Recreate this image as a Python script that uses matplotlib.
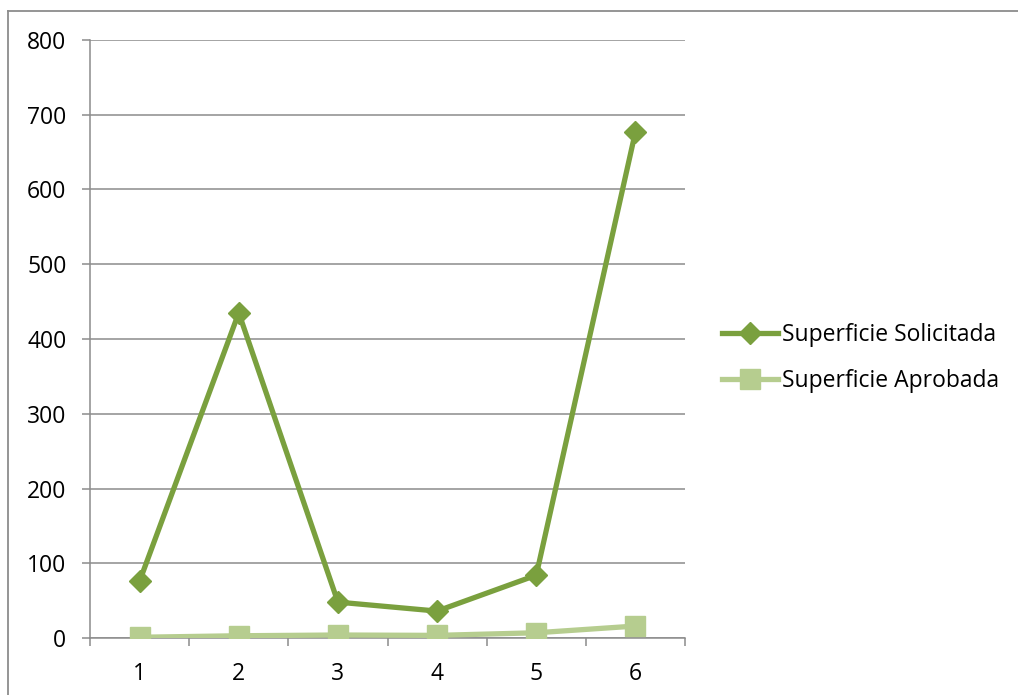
import matplotlib
matplotlib.use("Agg")
import matplotlib.pyplot as plt
from matplotlib.lines import Line2D

categories = [1, 2, 3, 4, 5, 6]
solicitada = [76, 435, 48, 36, 84, 677]
aprobada = [1, 3, 4, 3.5, 7, 16]
yticks = [0, 100, 200, 300, 400, 500, 600, 700, 800]
series_names = ["Superficie Solicitada", "Superficie Aprobada"]

plt.rcParams['font.family'] = ['Open Sans', 'DejaVu Sans']

dark = "#7AA03E"
light = "#B6CD8F"
grid = "#8C8C8C"
fs = 16.5

fig = plt.figure(figsize=(10.18, 6.95), dpi=100)
ax = fig.add_axes([90/1018, 57/695, 595/1018, 598/695])

ax.plot(categories, solicitada, color=dark, lw=3.8, marker='D', ms=11,
        mec=dark, mfc=dark, label=series_names[0], zorder=4)
ax.plot(categories, aprobada, color=light, lw=3.8, marker='s', ms=14,
        mec=light, mfc=light, label=series_names[1], zorder=3)

ax.set_xlim(0.5, 6.5)
ax.set_ylim(0, 800)
ax.set_yticks(yticks)
ax.set_yticklabels([str(v) for v in yticks])
ax.set_xticks([x + 0.5 for x in [0] + categories])
ax.set_xticklabels([])
ax.set_xticks(categories, minor=True)
ax.set_xticklabels([str(c) for c in categories], minor=True)
ax.tick_params(axis='x', which='minor', length=0, pad=17, labelsize=fs)
ax.tick_params(axis='x', which='major', length=6, width=1.1, color=grid, direction='out')
ax.tick_params(axis='y', length=6, width=1.1, color=grid, direction='out', labelsize=fs, pad=11)
ax.yaxis.grid(True, color=grid, lw=1.1)
ax.set_axisbelow(True)
for s in ['top', 'right']:
    ax.spines[s].set_visible(False)
for s in ['left', 'bottom']:
    ax.spines[s].set_color(grid)
    ax.spines[s].set_linewidth(1.1)

leg = fig.legend(loc='center left', bbox_to_anchor=(722/1018, 1 - 358/695),
                 frameon=False, fontsize=fs, handlelength=2.45, handletextpad=0.15,
                 labelspacing=0.98, borderaxespad=0, borderpad=0)

# chart area border (left and top edges visible)
fig.add_artist(Line2D([8/1018, 8/1018], [0, 1 - 11/695], color="#8C8C8C", lw=1.3,
                      transform=fig.transFigure))
fig.add_artist(Line2D([8/1018, 1], [1 - 11/695, 1 - 11/695], color="#8C8C8C", lw=1.3,
                      transform=fig.transFigure))

fig.savefig("out.png", dpi=100)
